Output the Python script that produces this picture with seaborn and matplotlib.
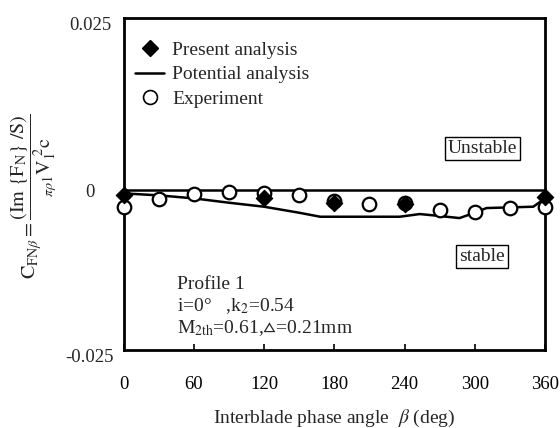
import matplotlib
matplotlib.use("Agg")
import matplotlib.pyplot as plt
from matplotlib.lines import Line2D
import seaborn as sns
import pandas as pd

# Interblade phase angle (deg)
beta_exp = [0, 30, 60, 90, 120, 150, 180, 210, 240, 270, 300, 330, 360]
cfn_exp = [-0.0025, -0.00135, -0.0006, -0.00035, -0.00045, -0.00075, -0.0017,
           -0.0021, -0.0020, -0.0030, -0.0033, -0.0027, -0.0025]

beta_present = [0, 120, 180, 240, 360]
cfn_present = [-0.00075, -0.00125, -0.0020, -0.0021, -0.0010]

beta_potential = [0, 30, 60, 90, 120, 150, 168, 180, 210, 236, 253, 265, 287,
                  300, 310, 330, 350, 360]
cfn_potential = [-0.0005, -0.0008, -0.00125, -0.0019, -0.0025, -0.0034, -0.0040,
                 -0.0040, -0.0040, -0.0040, -0.0036, -0.0038, -0.0042, -0.0034,
                 -0.0027, -0.0026, -0.0025, -0.00125]

xticks = [0, 60, 120, 180, 240, 300, 360]

sns.set_theme(style="white")
plt.rcParams["font.family"] = ["Liberation Serif", "DejaVu Serif"]
plt.rcParams["mathtext.fontset"] = "stix"
plt.rcParams["axes.unicode_minus"] = False

FS = 14
FS_TICK = 13.5

fig = plt.figure(figsize=(5.6, 4.28), dpi=100)
ax = fig.add_axes([123.5 / 560, 1 - 350 / 428, 421.5 / 560, 332 / 428])

df_pot = pd.DataFrame({"beta": beta_potential, "cfn": cfn_potential})
df_exp = pd.DataFrame({"beta": beta_exp, "cfn": cfn_exp})
df_pre = pd.DataFrame({"beta": beta_present, "cfn": cfn_present})

ax.axhline(0, color="black", lw=1.8, zorder=1)
sns.lineplot(data=df_pot, x="beta", y="cfn", ax=ax, color="black", lw=1.8,
             zorder=2, sort=False)
sns.scatterplot(data=df_exp, x="beta", y="cfn", ax=ax, marker="o", s=95,
                facecolor="white", edgecolor="black", linewidth=1.6, zorder=3,
                clip_on=False)
sns.scatterplot(data=df_pre, x="beta", y="cfn", ax=ax, marker="D", s=70,
                color="black", edgecolor="black", linewidth=0.8, zorder=4,
                clip_on=False)

ax.set_xlim(0, 360)
ax.set_ylim(-0.02395, 0.02575)

ax.set_xticks(xticks)
ax.set_xticklabels([str(t) for t in xticks], fontsize=FS_TICK)
ax.tick_params(axis="x", direction="in", length=4, width=1.2, pad=19,
               bottom=True, colors="black")

ax.set_yticks([0, 0.025])
ax.set_yticklabels(["0", "0.025"], fontsize=FS_TICK, ha="center")
ax.tick_params(axis="y", length=0, pad=24)
ax.text(-33.5 / 421.5, -0.025, "-0.025", transform=ax.get_yaxis_transform(),
        ha="center", va="center", fontsize=FS_TICK, clip_on=False)

for sp in ax.spines.values():
    sp.set_color("black")
    sp.set_linewidth(2.0)

ax.set_xlabel(r"Interblade phase angle  $\beta$ (deg)", fontsize=FS)
ax.xaxis.set_label_coords(0.5, -0.205)
ax.xaxis.label.set_va("center")
ax.set_ylabel("")

fig.text(0.06, 0.541,
         r"$\mathrm{C}_{\mathrm{FN}\beta}{=}\dfrac{(\mathrm{Im}\ \{\mathrm{F}_\mathrm{N}\}\ /\mathrm{S})}"
         r"{{}_{\pi\rho 1}\mathrm{V}_1^{\ 2}\mathrm{c}}$",
         rotation=90, ha="center", va="center", fontsize=14.5)

handles = [
    Line2D([], [], marker="D", color="black", ls="none", markersize=8),
    Line2D([], [], color="black", lw=1.8),
    Line2D([], [], marker="o", ls="none", markerfacecolor="white",
           markeredgecolor="black", markeredgewidth=1.2, markersize=10),
]
labels = ["Present analysis", "Potential analysis", "Experiment"]
ax.legend(handles, labels, loc="upper left", bbox_to_anchor=(0.028, 0.93),
          frameon=False, fontsize=FS, handlelength=1.5, handletextpad=0.4,
          labelspacing=0.36, borderaxespad=0, borderpad=0)

box = dict(boxstyle="square,pad=0.15", facecolor="white", edgecolor="black", lw=1.0)
ax.text(0.852, 0.608, "Unstable", transform=ax.transAxes, ha="center",
        va="center", fontsize=FS, bbox=box)
ax.text(0.850, 0.282, "stable", transform=ax.transAxes, ha="center",
        va="center", fontsize=FS, bbox=box)

ax.text(0.127, 0.196, "Profile 1", transform=ax.transAxes, ha="left",
        va="center", fontsize=FS)
ax.text(0.127, 0.133, r"i=0°   ,k$_2$=0.54", transform=ax.transAxes,
        ha="left", va="center", fontsize=FS)
ax.text(0.127, 0.066, r"M$_{2\mathrm{th}}$=0.61,$\vartriangle$=0.21mm",
        transform=ax.transAxes, ha="left", va="center", fontsize=FS)

fig.savefig("out.png", dpi=100, facecolor="white")
